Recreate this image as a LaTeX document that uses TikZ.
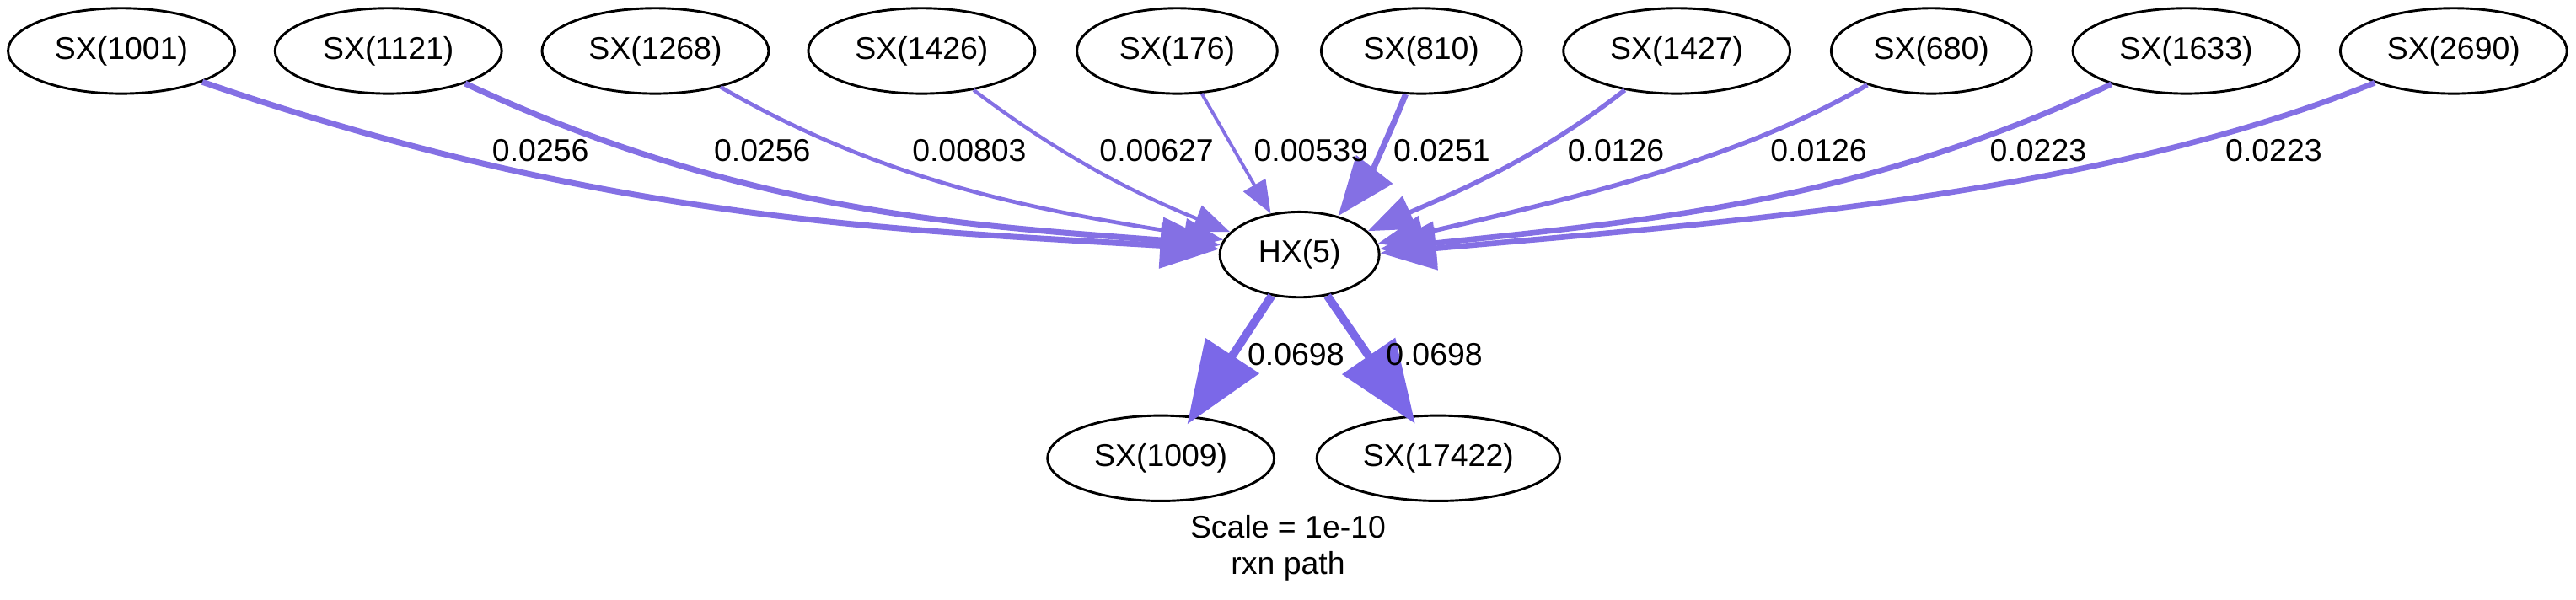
\documentclass[tikz,border=0pt]{standalone}
\usepackage{fontspec}
\setmainfont{Liberation Sans}
\usetikzlibrary{arrows.meta,shapes.geometric}
\definecolor{ec}{RGB}{132,112,228}
\definecolor{ecb}{RGB}{123,104,232}
\begin{document}
\begin{tikzpicture}[x=0.5pt,y=0.5pt,
  sp/.style={ellipse,draw,line width=0.75pt,inner sep=0pt,minimum height=26pt,
    font=\fontsize{9.6}{11.5}\selectfont},
  lbl/.style={font=\fontsize{9.6}{11}\selectfont,inner sep=0pt},
  fx/.style={draw=ec,line width=#1,-{Triangle[length=0pt 10,width=0pt 7.6]}},
  fxb/.style={draw=ecb,line width=#1,shorten >=-3pt,-{Triangle[length=0pt 10,width=0pt 7.6]}}]
\useasboundingbox (0,0) rectangle (1568,-365);
% top row
\node[sp,minimum width=69pt] (a1) at (73.9,-31) {SX(1001)};
\node[sp,minimum width=69pt] (a2) at (236.4,-31) {SX(1121)};
\node[sp,minimum width=69pt] (a3) at (398.9,-31) {SX(1268)};
\node[sp,minimum width=69pt] (a4) at (561,-31) {SX(1426)};
\node[sp,minimum width=61pt] (a5) at (716.5,-31) {SX(176)};
\node[sp,minimum width=61pt] (a6) at (865.2,-31) {SX(810)};
\node[sp,minimum width=69pt] (a7) at (1020.6,-31) {SX(1427)};
\node[sp,minimum width=61pt] (a8) at (1175.6,-31) {SX(680)};
\node[sp,minimum width=69pt] (a9) at (1330.7,-31) {SX(1633)};
\node[sp,minimum width=69pt] (a10) at (1493.5,-31) {SX(2690)};
% centre
\node[sp,minimum width=48.5pt] (hx) at (791,-155) {HX(5)};
% bottom
\node[sp,minimum width=69pt] (b1) at (706.6,-279) {SX(1009)};
\node[sp,minimum width=74pt] (b2) at (875.5,-279) {SX(17422)};
% edges in
\draw[fx=1.8pt] (a1.-21) .. controls +(-19:260) and +(176.6:200) .. (hx.176);
\draw[fx=1.8pt] (a2.-23) .. controls +(-25:190) and +(175.5:150) .. (hx.173);
\draw[fx=1.2pt] (a3.-29) .. controls +(-30:120) and +(171:110) .. (hx.169);
\draw[fx=1.1pt] (a4.-37) .. controls +(-37:70) and +(158:60) .. (hx.162);
\draw[fx=1.0pt] (a5.-60) -- (hx.125);
\draw[fx=1.8pt] (a6.-110) .. controls +(-112:30) and +(52:30) .. (hx.45);
\draw[fx=1.4pt] (a7.-143) .. controls +(-142:70) and +(24:60) .. (hx.19);
\draw[fx=1.4pt] (a8.-152) .. controls +(-150:90) and +(13:130) .. (hx.8);
\draw[fx=1.7pt] (a9.-156) .. controls +(-155:170) and +(6:170) .. (hx.4);
\draw[fx=1.7pt] (a10.-158) .. controls +(-158:180) and +(5:230) .. (hx.1);
% edges out
\draw[fxb=2.5pt] (hx.-124) -- (b1.53);
\draw[fxb=2.5pt] (hx.-56) -- (b2.124);
% edge labels
\node[lbl] (l1) at (329,-91.6) {0.0256};
\node[lbl] (l2) at (464,-91.6) {0.0256};
\node[lbl] (l3) at (590,-91.6) {0.00803};
\node[lbl] (l4) at (704,-91.6) {0.00627};
\node[lbl] (l5) at (798,-91.6) {0.00539};
\node[lbl] (l6) at (877.6,-91.6) {0.0251};
\node[lbl] (l7) at (983.6,-91.6) {0.0126};
\node[lbl] (l8) at (1107,-91.6) {0.0126};
\node[lbl] (l9) at (1240.6,-91.6) {0.0223};
\node[lbl] (l10) at (1384,-91.6) {0.0223};
\node[lbl] (l11) at (788.8,-215.7) {0.0698};
\node[lbl] (l12) at (873,-215.7) {0.0698};
% graph label
\node[lbl,align=center] (cap) at (784,-333.5) {Scale = 1e-10\\rxn path};
\end{tikzpicture}
\end{document}
